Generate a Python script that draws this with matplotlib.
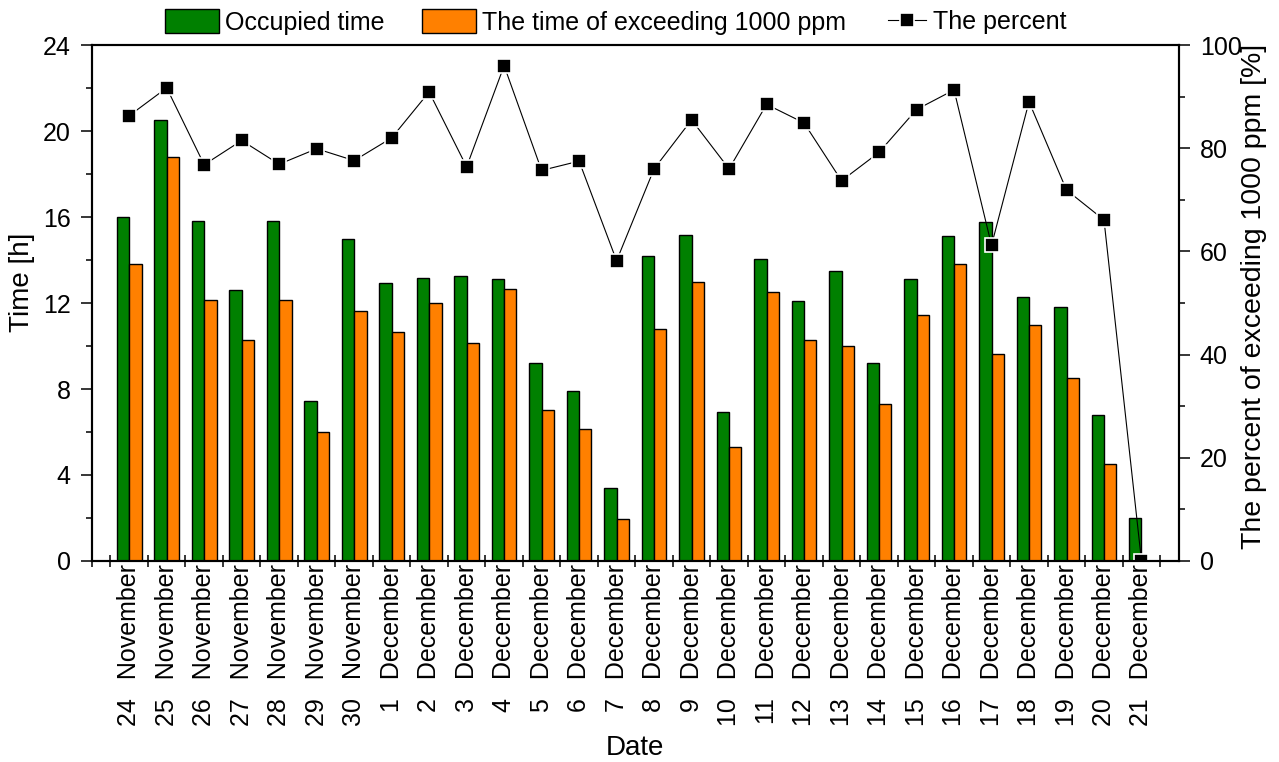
import numpy as np
import matplotlib
matplotlib.use('Agg')
import matplotlib.pyplot as plt

plt.rcParams['font.family'] = ['Liberation Sans', 'DejaVu Sans']

days = [24, 25, 26, 27, 28, 29, 30, 1, 2, 3, 4, 5, 6, 7, 8, 9, 10,
        11, 12, 13, 14, 15, 16, 17, 18, 19, 20, 21]
months = ['November'] * 7 + ['December'] * 21
occupied = [16.0, 20.5, 15.8, 12.6, 15.8, 7.45, 15.0, 12.95, 13.15, 13.25,
            13.1, 9.2, 7.9, 3.4, 14.2, 15.15, 6.95, 14.05, 12.1, 13.5,
            9.2, 13.1, 15.1, 15.75, 12.3, 11.8, 6.8, 2.0]
exceed = [13.8, 18.8, 12.15, 10.3, 12.15, 6.0, 11.65, 10.65, 12.0, 10.15,
          12.65, 7.0, 6.15, 1.95, 10.8, 13.0, 5.3, 12.5, 10.3, 10.0,
          7.3, 11.45, 13.8, 9.65, 11.0, 8.5, 4.5, 0.0]
percent = [86.3, 91.7, 76.8, 81.5, 76.9, 79.9, 77.6, 82.0, 90.9, 76.4,
           96.0, 75.7, 77.5, 58.2, 76.0, 85.5, 76.0, 88.5, 84.9, 73.7,
           79.2, 87.5, 91.3, 61.2, 89.0, 71.9, 66.1, 0.0]

# day and month separated by a wider gap, as in the original
labels = [f'{d}  \u2009{m}' for d, m in zip(days, months)]
x = np.arange(len(days))
w = 0.33

fig = plt.figure(figsize=(12.79, 7.62), dpi=100)
ax = fig.add_axes([0.0717, 0.2638, 0.8501, 0.6771])

b1 = ax.bar(x - w / 2, occupied, w, color='#008000', edgecolor='black',
            linewidth=1.0, label='Occupied time')
b2 = ax.bar(x + w / 2, exceed, w, color='#FF8000', edgecolor='black',
            linewidth=1.0, label='The time of exceeding 1000 ppm')

ax.set_xlim(-1, 28)
ax.set_ylim(0, 24)
ax.set_yticks(np.arange(0, 25, 4))
ax.set_yticks(np.arange(2, 24, 4), minor=True)
ax.set_xticks(np.concatenate([[-1], np.arange(-0.5, 28, 1)]))
ax.set_xticks(x, labels, minor=True, rotation=90)
ax.tick_params(axis='x', which='major', direction='inout', length=8,
               width=1.1, labelbottom=False)
ax.tick_params(axis='x', which='minor', length=0, pad=2, labelsize=18)
ax.tick_params(axis='y', which='major', direction='out', length=8,
               width=1.1, labelsize=18, pad=7)
ax.tick_params(axis='y', which='minor', direction='out', length=4.5,
               width=1.1)

ax2 = ax.twinx()
line, = ax2.plot(x, percent, color='black', linewidth=0.8, marker='s',
                 markersize=10, markerfacecolor='black',
                 markeredgecolor='white', markeredgewidth=1.2,
                 label='The percent')
ax2.set_ylim(0, 100)
ax2.set_yticks(np.arange(0, 101, 20))
ax2.set_yticks(np.arange(10, 100, 20), minor=True)
ax2.tick_params(axis='y', which='major', direction='out', length=8,
                width=1.1, labelsize=18, pad=7)
ax2.tick_params(axis='y', which='minor', direction='out', length=4.5,
                width=1.1)

for a in (ax, ax2):
    for s in a.spines.values():
        s.set_linewidth(1.5)

ax.set_xlabel('Date', fontsize=20)
ax.xaxis.set_label_coords(0.5, -0.337)
ax.set_ylabel('Time [h]', fontsize=20)
ax.yaxis.set_label_coords(-0.052, 0.54)
ax2.set_ylabel('The percent of exceeding 1000 ppm [%]', fontsize=20.5)
ax2.yaxis.set_label_coords(1.057, 0.513)

fig.legend(handles=[b1, b2], loc='center left',
           bbox_to_anchor=(165 / 1279, 1 - 22 / 762), ncol=2,
           frameon=False, fontsize=18, handlelength=2.15, handleheight=1.1,
           handletextpad=0.25, columnspacing=1.5, borderpad=0,
           borderaxespad=0)
fig.legend(handles=[line], loc='center left',
           bbox_to_anchor=(888 / 1279, 1 - 22 / 762), frameon=False,
           fontsize=18, handlelength=1.5, handletextpad=0.3, borderpad=0,
           borderaxespad=0)

fig.savefig('out.png', dpi=100)
